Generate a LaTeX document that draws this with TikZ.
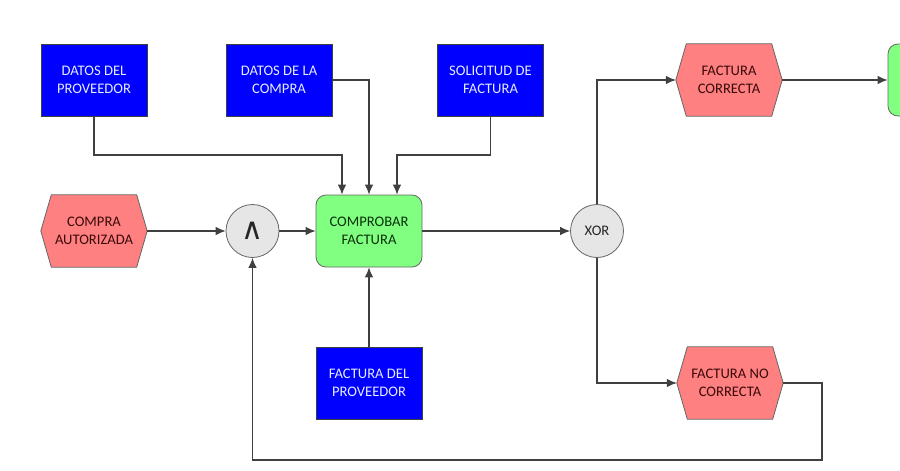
\documentclass[tikz,border=0pt]{standalone}
\usepackage{fontspec}
\setmainfont{Carlito}
\newfontfamily\symfont{DejaVu Sans}
\usetikzlibrary{arrows.meta,backgrounds,calc}
\definecolor{dblue}{HTML}{0000FF}
\definecolor{bluetext}{HTML}{E4ECFF}
\definecolor{hexfill}{HTML}{FF8080}
\definecolor{hextext}{HTML}{3A0A0A}
\definecolor{gfill}{HTML}{80FF80}
\definecolor{gtext}{HTML}{0A300A}
\definecolor{cfill}{HTML}{E6E6E6}
\definecolor{linegray}{HTML}{404040}
\newcommand{\hexat}[1]{%
  \begin{scope}[on background layer]
  \filldraw[fill=hexfill, draw=black!60, line width=0.8pt]
    (#1.west) -- ($(#1.north west)+(10.5,0)$) -- ($(#1.north east)+(-10.5,0)$)
    -- (#1.east) -- ($(#1.south east)+(-10.5,0)$) -- ($(#1.south west)+(10.5,0)$) -- cycle;
  \end{scope}}
\begin{document}
\begin{tikzpicture}[x=1pt,y=-1pt,
  font=\fontsize{14.6}{17.7}\selectfont,
  conn/.style={draw=linegray, line width=1.1pt, -{Latex[length=10pt,width=8.5pt]}},
  databox/.style={draw=black!75, line width=0.8pt, fill=dblue, text=bluetext,
    minimum width=106pt, minimum height=72pt, inner sep=0pt, align=center},
  hexbox/.style={minimum width=106pt, minimum height=72pt, inner sep=0pt,
    align=center, text=hextext},
  funcbox/.style={draw=black!60, line width=0.8pt, fill=gfill, text=gtext,
    rounded corners=10pt, minimum width=106pt, minimum height=72pt,
    inner sep=0pt, align=center},
  gate/.style={circle, draw=black!60, line width=0.8pt, fill=cfill,
    minimum size=53pt, inner sep=0pt, text=black!85}]
\useasboundingbox (0,0) rectangle (900,471);

\node[databox] (dp) at (94,80) {DATOS DEL\\PROVEEDOR};
\node[databox] (dc) at (279,80) {DATOS DE LA\\COMPRA};
\node[databox] (sf) at (490.5,80) {SOLICITUD DE\\FACTURA};
\node[databox] (fp) at (369,383) {FACTURA DEL\\PROVEEDOR};

\node[hexbox] (ca) at (94,231) {COMPRA\\AUTORIZADA};
\node[hexbox] (fc) at (729,80) {FACTURA\\CORRECTA};
\node[hexbox] (fnc) at (730,383) {FACTURA NO\\CORRECTA};
\hexat{ca}
\hexat{fc}
\hexat{fnc}

\node[gate] (and) at (252.5,231) {\symfont\fontsize{30}{30}\selectfont ∧};
\node[gate] (xor) at (597,231) {XOR};
\node[funcbox] (cf) at (369,231) {COMPROBAR\\FACTURA};
\node[funcbox] (gr) at (941,80) {};

\coordinate (j1) at (342,155);
\coordinate (j3) at (397,155);
\coordinate (r1) at (822,460);

\draw[conn] (dp.south) |- (j1) -- (j1 |- cf.north);
\draw[conn] (dc.east) -| (cf.north);
\draw[conn] (sf.south) |- (j3) -- (j3 |- cf.north);
\draw[conn] (ca.east) -- (and.west);
\draw[conn] (and.east) -- (cf.west);
\draw[conn] (fp.north) -- (cf.south);
\draw[conn] (cf.east) -- (xor.west);
\draw[conn] (xor.north) |- (fc.west);
\draw[conn] (xor.south) |- (fnc.west);
\draw[conn] (fc.east) -- (gr.west);
\draw[conn] (fnc.east) -| (r1) -| (and.south);
\end{tikzpicture}
\end{document}
